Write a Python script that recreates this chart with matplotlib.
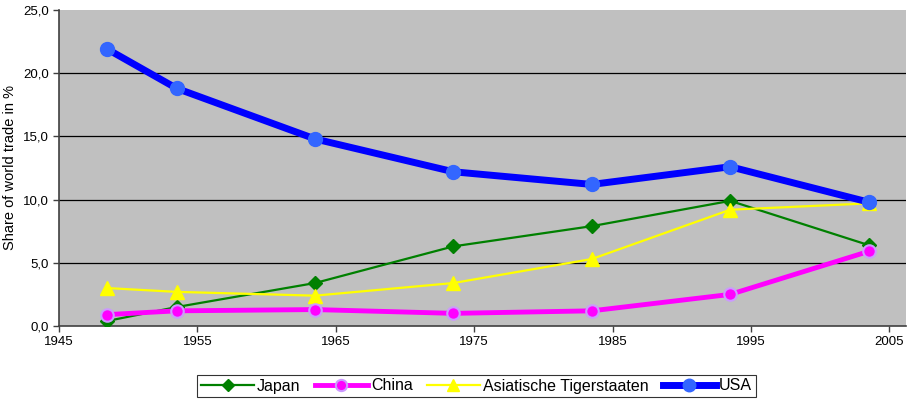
import matplotlib
matplotlib.use('Agg')
import matplotlib.pyplot as plt
import numpy as np

plt.rcParams['font.family'] = ['Liberation Sans', 'DejaVu Sans']

years = [1948, 1953, 1963, 1973, 1983, 1993, 2003]
japan = [0.4, 1.5, 3.4, 6.3, 7.9, 9.9, 6.4]
china = [0.9, 1.2, 1.3, 1.0, 1.2, 2.5, 5.9]
tigers = [3.0, 2.7, 2.4, 3.4, 5.3, 9.2, 9.7]
usa = [21.9, 18.8, 14.8, 12.2, 11.2, 12.6, 9.8]

# points sit in the middle of each year
x = np.array(years) + 0.5

fig = plt.figure(figsize=(9.1, 4.03), dpi=100)
ax = fig.add_axes([59 / 910, 77 / 403, 847 / 910, 316 / 403])
ax.set_facecolor('#C0C0C0')

ax.plot(x, japan, color='#008000', lw=1.6, marker='D', ms=7,
        mfc='#008000', mec='#008000', label='Japan', zorder=3)
ax.plot(x, china, color='#FF00FF', lw=3.5, marker='o', ms=9,
        mfc='#FF00FF', mec='#CC99FF', mew=1.5, label='China', zorder=4)
ax.plot(x, tigers, color='#FFFF00', lw=1.6, marker='^', ms=10,
        mfc='#FFFF00', mec='#FFFF00', label='Asiatische Tigerstaaten', zorder=3)
ax.plot(x, usa, color='#0000FF', lw=5, marker='o', ms=10,
        mfc='#3366FF', mec='#3366FF', label='USA', zorder=5)

ax.set_xlim(1945, 2006.2)
ax.set_ylim(0, 25)
ax.set_xticks(np.arange(1945, 2006, 10))
ax.set_yticks(np.arange(0, 26, 5))
ax.set_yticklabels([('%.1f' % v).replace('.', ',') for v in np.arange(0, 26, 5)])
ax.tick_params(labelsize=9.5, color='#404040', length=4, width=1)
ax.set_ylabel('Share of world trade in %', fontsize=10.5)

for v in [5, 10, 15, 20]:
    ax.axhline(v, color='#000000', lw=0.9, zorder=1)

for s in ['top', 'right']:
    ax.spines[s].set_visible(False)
for s in ['left', 'bottom']:
    ax.spines[s].set_color('#404040')
    ax.spines[s].set_linewidth(1.2)

leg = fig.legend(loc='center', bbox_to_anchor=(476.5 / 910, 1 - 386 / 403), ncol=4,
                 fontsize=11.5, frameon=True, fancybox=False, edgecolor='black',
                 handlelength=3.3, handletextpad=0.2, columnspacing=0.9,
                 borderpad=0.25, borderaxespad=0, markerscale=0.9)
leg.get_frame().set_linewidth(0.8)

fig.savefig('out.png', dpi=100)
